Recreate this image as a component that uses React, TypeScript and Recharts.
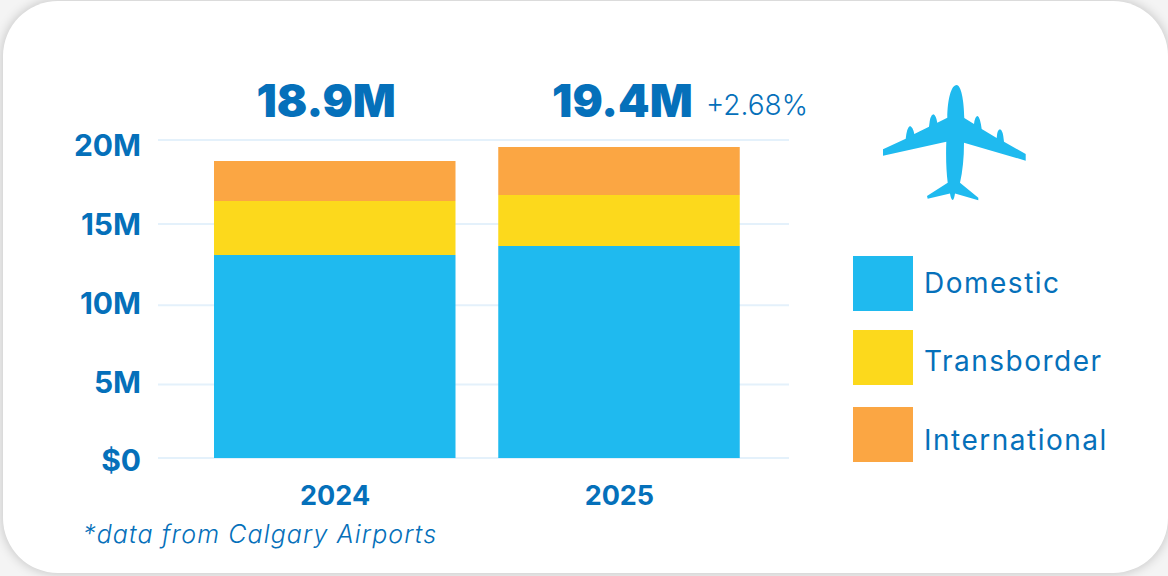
import { BarChart, Bar, XAxis, YAxis, CartesianGrid, Legend } from 'recharts';

const years = ['2024', '2025'];
const domestic = [13.09, 13.64];
const transborder = [3.28, 3.09];
const international = [2.38, 2.85];
const totalLabels = ['18.9M', '19.4M'];
const yTicks = [0, 5, 10, 15, 20];
const yTickLabels = ['$0', '5M', '10M', '15M', '20M'];

const BLUE = '#0570ba';
const seriesColors = { domestic: '#1fbaef', transborder: '#fcd91c', international: '#fba643' };

const data = years.map((year, i) => ({
  year,
  domestic: domestic[i],
  transborder: transborder[i],
  international: international[i],
}));

// the source graphic spaces its gridlines unevenly, so map each tick to its own spot
const tickPixels = [318, 244.5, 165.3, 84, 0];
const labelNudge = [12.5, 8.5, 8.7, 11, 16];
const legendGaps = [19, 22, 0];
const legendTextNudge = [-1, 3, 5];

function unevenScale() {
  let dom = [0, 20];
  let rng = [458, 140];
  const fn: any = (v: number) => {
    const frac = (rng[0] - rng[1]) / 318;
    let i = Math.min(Math.floor(v / 5), 3);
    if (i < 0) i = 0;
    const a = tickPixels[i];
    const b = tickPixels[i + 1];
    return rng[1] + (a + ((b - a) * (v - yTicks[i])) / 5) * frac;
  };
  fn.domain = (d?: number[]) => {
    if (d) {
      dom = d;
      return fn;
    }
    return dom;
  };
  fn.range = (r?: number[]) => {
    if (r) {
      rng = r;
      return fn;
    }
    return rng;
  };
  fn.ticks = () => yTicks;
  fn.copy = () => unevenScale().domain(dom).range(rng);
  return fn;
}

function YTick({ y, payload }: any) {
  const i = yTicks.indexOf(payload.value);
  return (
    <text x={141} y={y + labelNudge[i]} textAnchor="end" fill={BLUE} fontSize={30} fontWeight={700} fontFamily="Inter">
      {yTickLabels[i]}
    </text>
  );
}

function TotalTick({ x, payload }: any) {
  const i = years.indexOf(payload.value);
  return (
    <text x={x + (i === 0 ? -9 : 3)} y={117} textAnchor="middle" fill={BLUE} fontSize={45} fontWeight={900} fontFamily="Inter">
      {totalLabels[i]}
    </text>
  );
}

function LegendList({ payload }: any) {
  return (
    <div>
      {(payload || []).map((entry: any, i: number) => (
        <div key={entry.value} style={{ display: 'flex', alignItems: 'center', height: 55, marginBottom: legendGaps[i] }}>
          <div style={{ width: 60, height: 55, background: entry.color }} />
          <span
            style={{
              marginLeft: 11,
              position: 'relative',
              top: legendTextNudge[i],
              fontSize: 28,
              letterSpacing: 1.5,
              color: BLUE,
              fontFamily: 'Inter',
              fontWeight: 400,
            }}
          >
            {entry.value}
          </span>
        </div>
      ))}
    </div>
  );
}

function Plane() {
  return (
    <svg width={190} height={140} viewBox="0 0 190 140" style={{ position: 'absolute', left: 860, top: 70 }}>
      <path
        fill={seriesColors.domestic}
        d="M96.7 15 C101 15 104 30 104.3 48 L114 54 Q115 46 117.7 46 Q120 47 121.7 59 L136.7 68 Q137 60 140 59.3 Q143 60 144 71.7 L165.7 84 L165.7 90.7 L104 72.7 Q104 95 100 112.7 L118.3 127.7 L118.3 130.3 L95 123.5 Q94 130 92.7 130 Q91 130 90 123.5 L67.7 128.7 L67 126 L87.7 112.7 Q85.5 95 86.3 71.7 L23 85.7 L23 79.3 L45.7 68.7 Q47 57 50 56 Q53 57 54.3 64 L69 56.7 Q70 45 73.3 44.3 Q76 45 77.3 52.7 L87.3 47.7 C87.5 30 91 15 96.7 15 Z"
      />
    </svg>
  );
}

export default function App() {
  return (
    <div style={{ position: 'fixed', left: 0, top: 0, width: 1168, height: 576, background: '#f4f4f4', overflow: 'hidden' }}>
      <div
        style={{
          position: 'absolute',
          left: 3,
          top: 1,
          width: 1165,
          height: 572,
          background: '#fff',
          borderRadius: 55,
          boxShadow: '0 0 12px rgba(0,0,0,0.22)',
        }}
      />
      <div style={{ position: 'absolute', left: 0, top: 0 }}>
        <BarChart width={1168} height={576} data={data} margin={{ top: 90, right: 379, bottom: 78, left: 0 }} barSize={241.5}>
          <CartesianGrid horizontal vertical={false} stroke="#e4f1fb" strokeWidth={2} />
          <XAxis
            dataKey="year"
            padding={{ left: 35, right: 27.5 }}
            axisLine={false}
            tickLine={false}
            height={40}
            tickMargin={22}
            tick={{ fill: BLUE, fontSize: 27, fontWeight: 700, fontFamily: 'Inter' }}
          />
          <XAxis
            xAxisId="totals"
            orientation="top"
            dataKey="year"
            padding={{ left: 35, right: 27.5 }}
            axisLine={false}
            tickLine={false}
            height={50}
            tick={<TotalTick />}
          />
          <YAxis
            width={158}
            domain={[0, 20]}
            ticks={yTicks}
            interval={0}
            scale={unevenScale() as any}
            axisLine={false}
            tickLine={false}
            tick={<YTick />}
          />
          <Bar dataKey="domestic" name="Domestic" stackId="a" fill={seriesColors.domestic} isAnimationActive={false} />
          <Bar dataKey="transborder" name="Transborder" stackId="a" fill={seriesColors.transborder} isAnimationActive={false} />
          <Bar dataKey="international" name="International" stackId="a" fill={seriesColors.international} isAnimationActive={false} />
          <Legend
            layout="vertical"
            align="center"
            verticalAlign="middle"
            itemSorter={null}
            content={<LegendList />}
            wrapperStyle={{ position: 'absolute', left: 853, top: 256, width: 300, bottom: 'auto' }}
          />
        </BarChart>
      </div>
      <div style={{ position: 'absolute', left: 706, top: 88, color: BLUE, fontSize: 28, fontFamily: 'Inter', fontWeight: 300 }}>+2.68%</div>
      <div
        style={{
          position: 'absolute',
          left: 83,
          top: 519,
          color: BLUE,
          fontSize: 25,
          letterSpacing: 1.12,
          fontStyle: 'italic',
          fontFamily: 'Inter',
          fontWeight: 300,
        }}
      >
        *data from Calgary Airports
      </div>
      <Plane />
    </div>
  );
}
